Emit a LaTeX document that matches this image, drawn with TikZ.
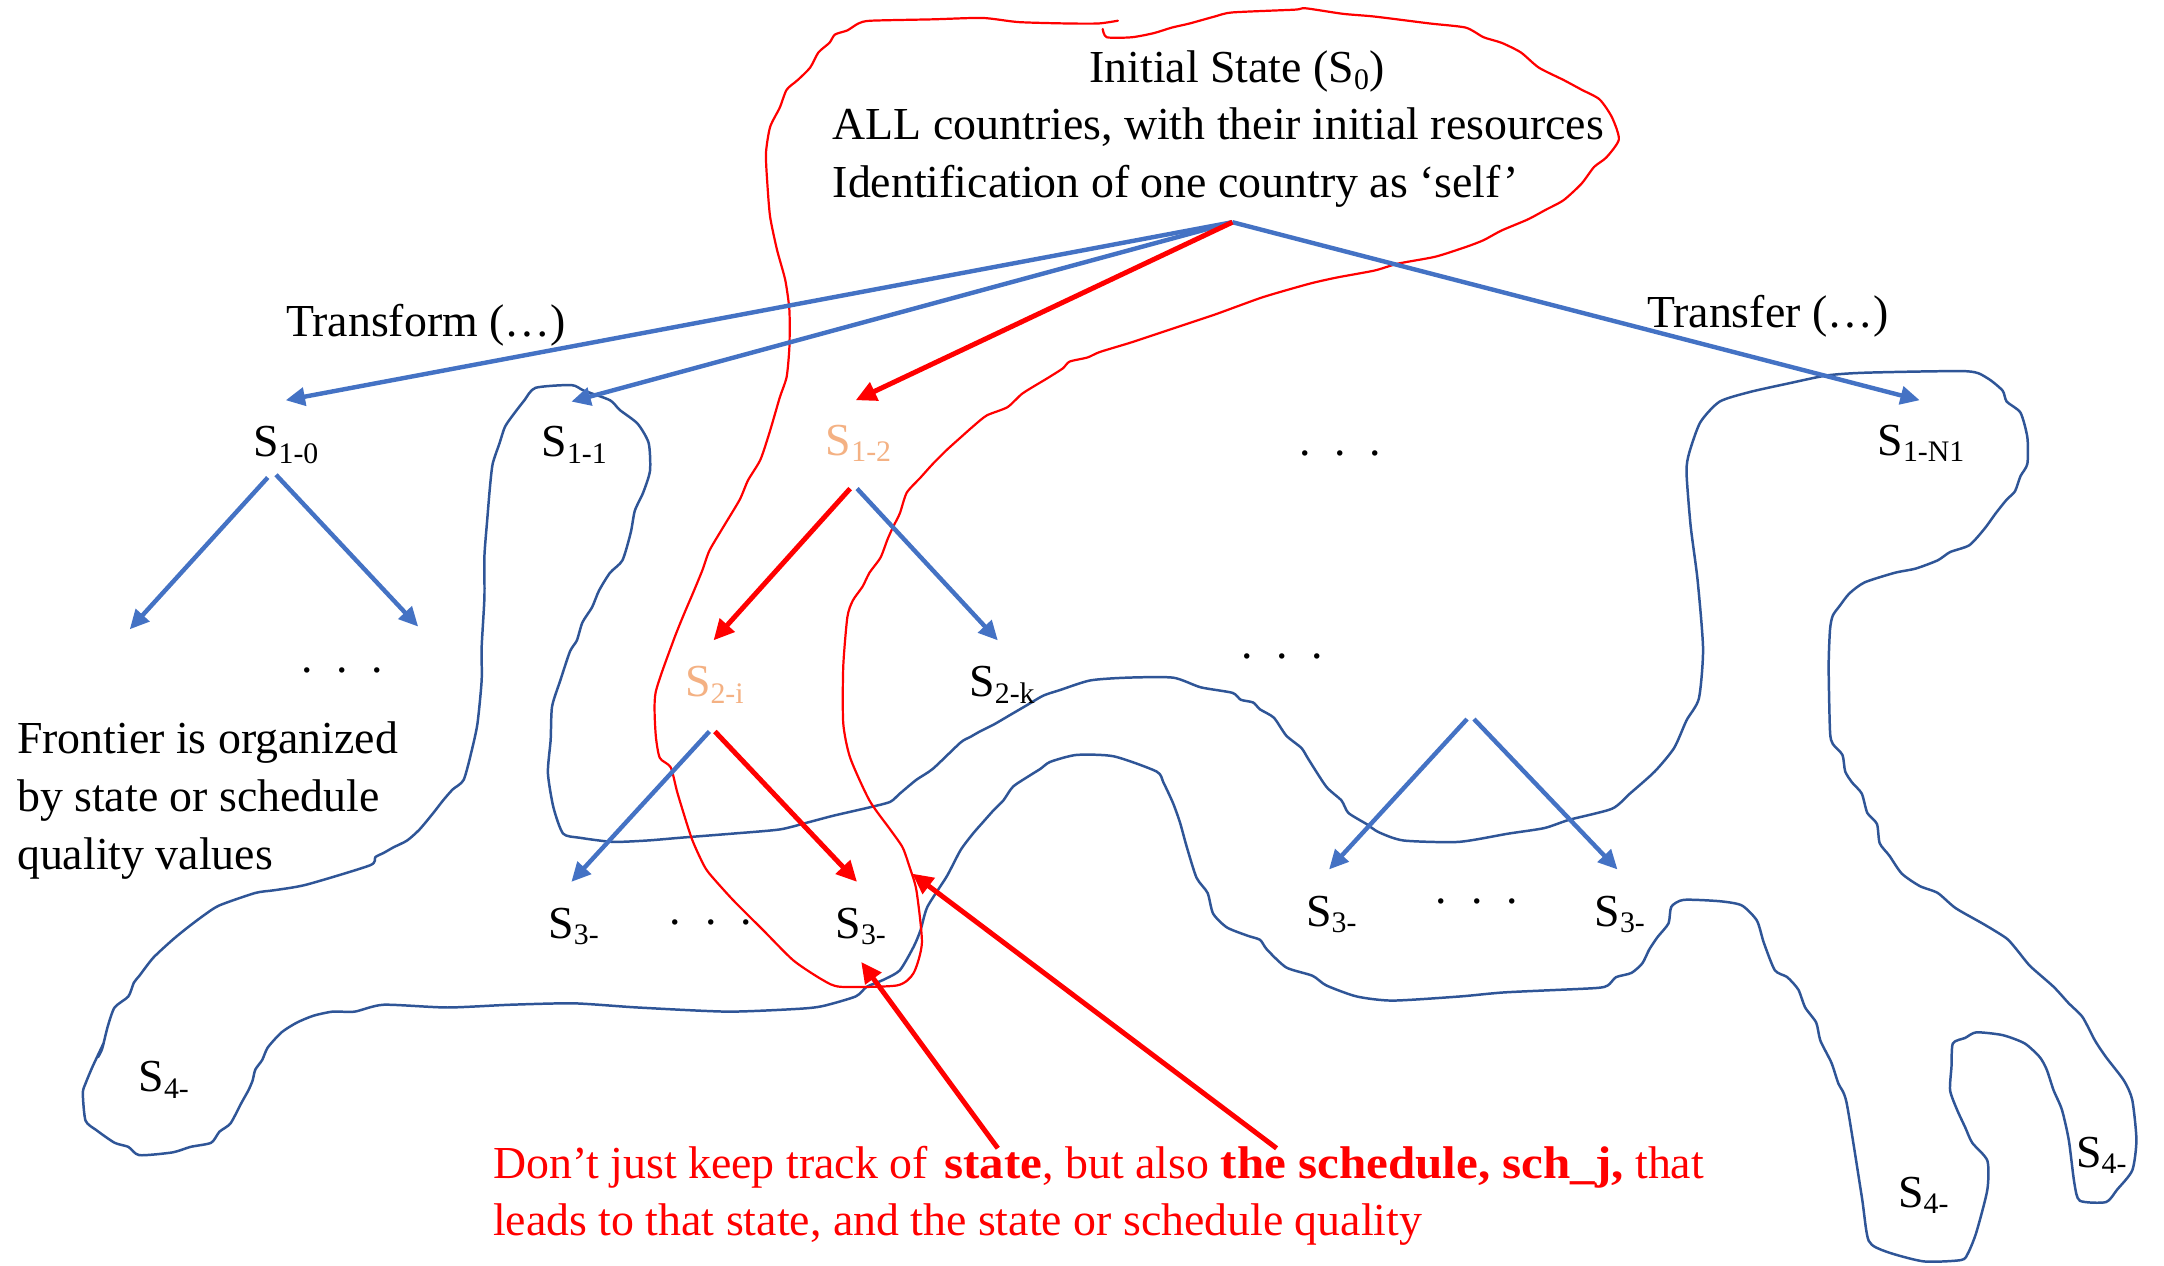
\documentclass[tikz,border=0pt]{standalone}
\usepackage{fontspec}
\setmainfont{Liberation Serif}[BoldFeatures={FakeStretch=1.07}]
\usetikzlibrary{arrows.meta}
\definecolor{arrowblue}{RGB}{68,114,196}
\definecolor{blobblue}{RGB}{47,85,151}
\definecolor{lightorange}{RGB}{244,177,131}
\definecolor{pred}{RGB}{255,0,0}
\newcommand\fs{\fontsize{16.6}{20.75}\selectfont}
\newcommand\sub[1]{\raisebox{-2.3pt}{\fontsize{10.8}{12}\selectfont #1}}
\newcommand\ddd{.\hskip 8.6pt.\hskip 8.6pt.}
\tikzset{
  barrow/.style={draw=arrowblue, line width=1.6pt, -{Triangle[length=7pt,width=6.5pt]}},
  rarrow/.style={draw=pred, line width=1.8pt, -{Triangle[length=7.5pt,width=7pt]}},
  blob/.style={draw=blobblue, line width=0.9pt, line join=round, line cap=round},
  redblob/.style={draw=pred, line width=0.8pt, line join=round, line cap=round},
  lbl/.style={anchor=base west, inner sep=0pt, font=\fs},
}
\begin{document}
\begin{tikzpicture}[x=0.5pt,y=-0.5pt]
\path[fill=white,use as bounding box] (0,0) rectangle (1568,917);

% ---------- frontier (blue freehand outline)
\draw[blob] plot[smooth, tension=0.4] coordinates {
(75,756) (67,773) (62,785) (60,792) (62,812) (70,819) (83,828) (93,831) (101,837) (125,835) (138,831) (153,828) (159,820) (167,814) (175,799) (180,790) (183,783) (185,775) (190,768) (194,759) (204,748) (215,741) (227,736) (241,733) (257,733) (278,728) (324,730) (370,728) (416,727) (462,730) (527,733) (578,731) (596,729) (620,722)
(628,715) (640,710) (652,703) (662,686) (667,674) (672,657) (686,635) (696,616) (705,604) (712,596) (720,587) (727,580) (734,570) (746,562) (754,557) (761,552) (780,547) (807,548) (838,559) (843,567) (850,582) (855,596) (860,614) (867,636) (875,647) (879,662) (889,672) (904,678) (913,681)
(918,688) (932,701) (951,707) (961,714) (983,722) (1009,725) (1058,722) (1091,719) (1155,716) (1165,714) (1171,708) (1182,705) (1190,698) (1195,688) (1201,679) (1209,669) (1211,657) (1220,652) (1246,653) (1262,656) (1273,667) (1278,683) (1286,703) (1295,708) (1303,717) (1308,730) (1316,741) (1319,754) (1327,770) (1332,785) (1338,799) (1349,867) (1354,899) (1367,907) (1394,914)
(1421,913) (1426,908) (1432,893) (1440,862) (1440,841) (1429,828) (1424,817) (1418,804) (1413,790) (1414,773) (1415,756) (1424,752) (1432,748) (1451,750) (1467,756) (1478,766) (1483,775) (1488,790) (1494,804) (1499,826) (1503,857) (1507,870) (1526,871) (1534,862) (1545,848) (1548,826) (1545,797) (1539,783) (1526,766) (1518,754) (1509,737) (1499,727) (1488,715)
(1471,700) (1462,689) (1454,680) (1438,670) (1417,658) (1404,647) (1391,642) (1378,633) (1369,620) (1362,611) (1360,597) (1353,589) (1349,575) (1342,567) (1337,559) (1335,547) (1328,539) (1326,530) (1325,483) (1326,456) (1328,446) (1333,439) (1340,430) (1351,422) (1373,415) (1388,412) (1404,406) (1413,400) (1427,395) (1438,383) (1446,372) (1454,362) (1460,356) (1464,345) (1469,336) (1469,317) (1464,299) (1454,291) (1451,283) (1440,274) (1425,269) (1353,270) (1324,272) (1295,278) (1268,284) (1246,291) (1232,306) (1224,328) (1222,342) (1225,381) (1230,420) (1234,470) (1231,506) (1222,522) (1213,542) (1199,559) (1181,575) (1168,586) (1137,594) (1119,600) (1093,604) (1057,610) (1017,609) (999,603) (990,597) (977,589) (972,580) (961,570) (948,550) (943,542) (932,533) (923,520) (913,514) (908,509) (899,507) (893,502) (870,498) (850,491) (817,491) (790,493) (768,500) (756,504) (744,511) (732,518) (720,525) (710,530) (703,534) (696,538)
(676,557) (664,565) (652,575) (645,581) (630,585) (604,591) (585,596) (565,601) (531,604) (493,607) (469,609) (444,610) (420,607) (408,604) (401,585) (397,560) (399,536) (400,512) (406,493) (413,472) (418,464) (422,451) (429,440) (434,428) (442,415) (451,406) (457,386) (460,370) (466,357) (471,341) (470,321) (462,307) (449,297) (442,290) (423,283) (414,279) (388,281) (380,290) (373,299) (366,309) (362,321) (357,336) (355,353) (353,377) (351,403) (351,433) (349,469) (349,493) (346,524) (342,543) (336,565) (328,572) (321,580) (314,589) (304,601) (295,609) (285,614) (278,618) (272,621) (268,627) (222,641) (199,645) (185,647) (159,656) (148,663) (136,672) (125,681) (111,694) (101,707) (97,712) (93,722) (83,730) (78,744) (74,760) (71,766)
};

% ---------- red freehand outline
\draw[redblob] plot[smooth, tension=0.4] coordinates {
(810,15) (796,17) (773,17) (738,16) (712,13) (676,14) (631,15) (622,17) (614,22) (605,25) (601,31) (593,38) (587,49) (578,58) (570,65) (565,78) (558,92) (555,111) (556,133) (558,157) (563,181) (569,203) (572,225) (572,251) (570,273) (565,288) (558,312) (551,333) (542,348) (536,362) (524,382) (514,399) (509,413) (502,430) (496,444) (488,464) (475,502) (475,531) (478,549) (486,556) (491,575) (501,607) (509,625) (514,633) (531,652) (553,674) (575,696) (596,710) (609,715) (650,714) (662,705) (668,683) (664,645) (659,628) (654,614) (645,601) (630,580) (616,549) (611,524) (611,483) (614,447) (618,435) (625,425) (630,415) (638,404) (643,391) (647,382) (652,372) (657,357) (667,346) (676,336) (686,326) (696,317) (705,309) (715,301) (730,295) (741,285) (759,274) (770,267) (775,262) (788,259) (797,255) (820,248) (850,238) (880,228) (913,216) (933,210) (951,205) (969,201) (996,196) (1013,191) (1040,186) (1062,179) (1075,174) (1088,167) (1107,159) (1120,152) (1133,145) (1146,133) (1155,121) (1164,114) (1173,101) (1168,85) (1159,72) (1146,65) (1133,58) (1115,49) (1102,38) (1088,31) (1075,27) (1062,20) (1036,17) (996,12) (973,10) (946,6) (938,7) (893,9) (880,12) (862,17) (849,20) (836,24) (820,27) (802,27) (799,21)
};

% ---------- texts
\node[lbl] (init1) at (789,60) {Initial State (S\sub{0})};
\node[lbl] (init2) at (603,101) {ALL countries, with their initial resources};
\node[lbl] (init3) at (603,143) {Identification of one country as ‘self’};
\node[lbl] (transform) at (207,244) {Transform (…)};
\node[lbl] (transfer) at (1193,237) {Transfer (…)};

\node[lbl] (s10) at (183,331) {S\sub{1-0}};
\node[lbl] (s11) at (392,331) {S\sub{1-1}};
\node[lbl, text=lightorange] (s12) at (598,330) {S\sub{1-2}};
\node[lbl] (dots1) at (941,330) {\ddd};
\node[lbl] (s1n1) at (1360,330) {S\sub{1-N1}};

\node[lbl] (dots2) at (218,487) {\ddd};
\node[lbl, text=lightorange] (s2i) at (496,505) {S\sub{2-i}};
\node[lbl] (s2k) at (702,505) {S\sub{2-k}};
\node[lbl] (dots3) at (899,477) {\ddd};

\node[lbl] (front1) at (12,546) {Frontier is organized};
\node[lbl] (front2) at (12,588) {by state or schedule};
\node[lbl] (front3) at (12,630) {quality values};

\node[lbl] (s3a) at (397,680) {S\sub{3-}};
\node[lbl] (dots4) at (485,670) {\ddd};
\node[lbl] (s3b) at (605,680) {S\sub{3-}};
\node[lbl] (s3c) at (946,671) {S\sub{3-}};
\node[lbl] (dots5) at (1040,655) {\ddd};
\node[lbl] (s3d) at (1155,671) {S\sub{3-}};

\node[lbl] (s4a) at (100,791) {S\sub{4-}};
\node[lbl] (s4b) at (1375,875) {S\sub{4-}};
\node[lbl] (s4c) at (1504,846) {S\sub{4-}};

\node[lbl, text=pred] (note1) at (357,854) {Don’t just keep track of\hskip 2pt\ \textbf{state}, but also \textbf{the schedule, sch\_j,} that};
\node[lbl, text=pred] (note2) at (357,895) {leads to that state, and the state or schedule quality};

% ---------- connector end points
\coordinate (root) at (893,161);
\coordinate (t10) at (207,290);
\coordinate (t11) at (414,291);
\coordinate (t12) at (620,290);
\coordinate (t1n) at (1391,290);
\coordinate (a10l) at (194,346); \coordinate (c10l) at (94,456);
\coordinate (a10r) at (200,344); \coordinate (c10r) at (303,454);
\coordinate (a12l) at (616,354); \coordinate (c12l) at (517,464);
\coordinate (a12r) at (621,354); \coordinate (c12r) at (723,464);
\coordinate (a2il) at (514,530); \coordinate (c2il) at (414,639);
\coordinate (a2ir) at (518,530); \coordinate (c2ir) at (621,639);
\coordinate (arl) at (1063,521); \coordinate (crl) at (963,630);
\coordinate (arr) at (1068,521); \coordinate (crr) at (1172,630);
\coordinate (n1) at (723,832); \coordinate (m1) at (624,697);
\coordinate (n2) at (925,832); \coordinate (m2) at (661,633);

% ---------- connectors
\draw[barrow] (root) -- (t10);
\draw[barrow] (root) -- (t11);
\draw[barrow] (root) -- (t1n);
\draw[rarrow] (root) -- (t12);
\draw[barrow] (a10l) -- (c10l);
\draw[barrow] (a10r) -- (c10r);
\draw[rarrow] (a12l) -- (c12l);
\draw[barrow] (a12r) -- (c12r);
\draw[barrow] (a2il) -- (c2il);
\draw[rarrow] (a2ir) -- (c2ir);
\draw[barrow] (arl) -- (crl);
\draw[barrow] (arr) -- (crr);
\draw[rarrow] (n1) -- (m1);
\draw[rarrow] (n2) -- (m2);
\end{tikzpicture}
\end{document}
